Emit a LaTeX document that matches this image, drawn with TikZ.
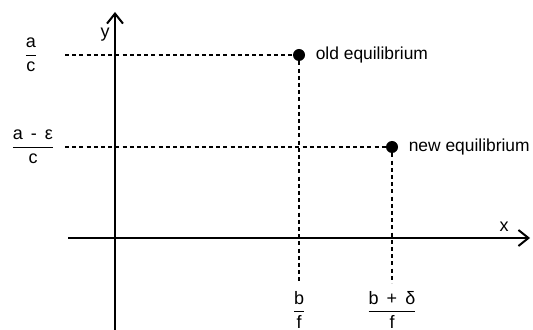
\documentclass[tikz,border=0pt]{standalone}
\usepackage{amsmath}
\usepackage{fontspec}
\setmainfont{Liberation Sans}
\usetikzlibrary{arrows.meta}

\begin{document}
\begin{tikzpicture}[x=0.5pt,y=-0.5pt,>={Straight Barb[length=5pt,width=8pt]},
  every node/.style={font=\fontsize{9}{11}\selectfont},
  axis/.style={line width=1pt,->},
  guide/.style={line width=0.8pt,dash pattern=on 2pt off 1.6pt},
  dot/.style={circle,fill=black,inner sep=0pt,minimum size=6pt},
  eqlbl/.style={anchor=west,inner sep=1pt,font=\fontsize{8.7}{10}\selectfont}]
\useasboundingbox (0,0) rectangle (533,330);
% axes
\coordinate (ybot) at (115,330);
\coordinate (ytop) at (115,12);
\coordinate (xleft) at (68,238);
\coordinate (xright) at (530,238);
\draw[axis] (ybot) -- (ytop);
\draw[axis] (xleft) -- (xright);
\node (ylbl) at (105,35) {y};
\node (xlbl) at (504,227) {x};
% equilibria
\node[dot] (old) at (299,55) {};
\node[dot] (new) at (392,147) {};
\node[eqlbl] (oldlbl) at ([xshift=4pt]old.east) {old equilibrium};
\node[eqlbl] (newlbl) at ([xshift=4pt]new.east) {new equilibrium};
% levels
\node (ac) at (31,55) {$\dfrac{\text{a}}{\text{c}}$};
\node (aec) at (33,147) {$\dfrac{\text{a\, - \,ε}}{\text{\,c\,}}$};
\node (bf) at (299,310) {$\dfrac{\text{b}}{\text{f}}$};
\node (bdf) at (392,310) {$\dfrac{\text{b\, + \,δ}}{\text{f}}$};
\coordinate (ha) at (65,55);
\coordinate (hb) at (65,147);
\coordinate (va) at (299,283);
\coordinate (vb) at (392,283);
\draw[guide] (ha) -- (old);
\draw[guide] (hb) -- (new);
\draw[guide] (old) -- (va);
\draw[guide] (new) -- (vb);
\end{tikzpicture}
\end{document}
